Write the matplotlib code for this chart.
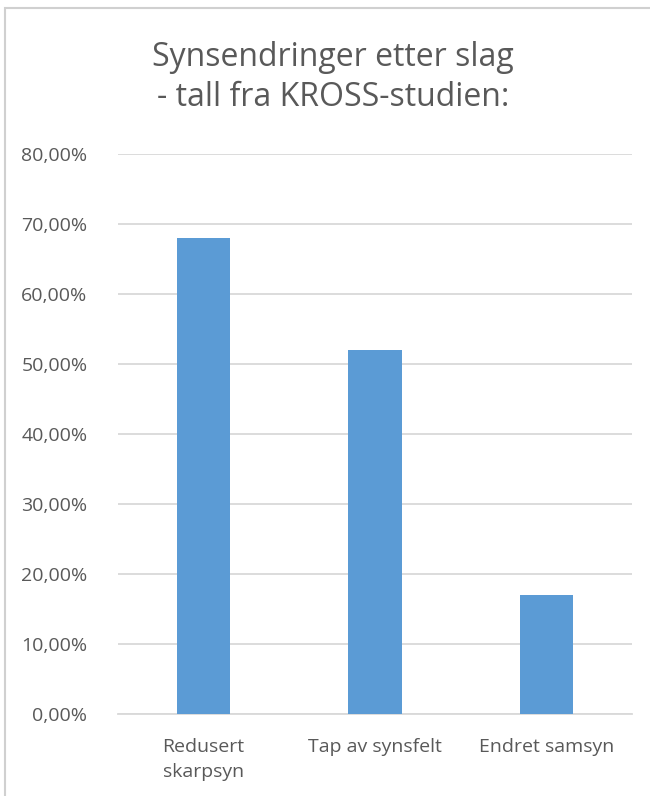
import matplotlib.pyplot as plt
from matplotlib.patches import Rectangle
from matplotlib.ticker import FuncFormatter

# Data
kategorier = ['Redusert\nskarpsyn', 'Tap av synsfelt', 'Endret samsyn']
andel = [68, 52, 17]
y_ticks = [0, 10, 20, 30, 40, 50, 60, 70, 80]

plt.rcParams['font.family'] = ['Open Sans', 'DejaVu Sans']
tekst_farge = '#595959'
grid_farge = '#D9D9D9'

fig = plt.figure(figsize=(6.5, 7.96), dpi=100)
ax = fig.add_axes([118 / 650, 1 - 714 / 796, (632 - 118) / 650, (714 - 154) / 796])

# Ramme rundt diagrammet
fig.patches.append(Rectangle((5 / 650, -0.1), 2, 1.1 - 8 / 796, transform=fig.transFigure,
                             fill=False, edgecolor='#D0D0D0', linewidth=1.5))

x = range(len(kategorier))
ax.bar(x, andel, width=0.31, color='#5B9BD5', zorder=3)

ax.set_xlim(-0.5, len(kategorier) - 0.5)
ax.set_ylim(0, 80)
ax.set_yticks(y_ticks)
ax.yaxis.set_major_formatter(FuncFormatter(lambda v, p: '{:.2f}%'.format(v).replace('.', ',')))
ax.set_xticks(list(x))
ax.set_xticklabels(kategorier, linespacing=1.5)

ax.grid(axis='y', color=grid_farge, linewidth=1.3, zorder=0)
for s in ['top', 'right', 'left']:
    ax.spines[s].set_visible(False)
ax.spines['bottom'].set_color(grid_farge)
ax.spines['bottom'].set_linewidth(1.3)
ax.tick_params(axis='both', length=0, labelsize=14, colors=tekst_farge)
ax.tick_params(axis='y', pad=22)
ax.tick_params(axis='x', pad=17)

fig.text(333 / 650, 1 - 58 / 796, 'Synsendringer etter slag', ha='center', va='center',
         fontsize=23, color=tekst_farge)
fig.text(333 / 650, 1 - 98 / 796, '- tall fra KROSS-studien:', ha='center', va='center',
         fontsize=23, color=tekst_farge)

fig.savefig('out.png', dpi=100)
